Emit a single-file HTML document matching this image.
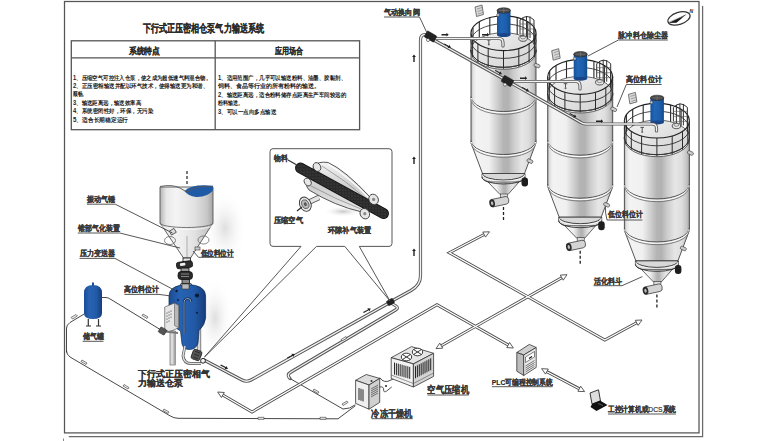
<!DOCTYPE html>
<html><head><meta charset="utf-8"><title>下行式正压密相仓泵气力输送系统</title>
<style>
html,body{margin:0;padding:0;background:#fff;}
body{width:768px;height:441px;overflow:hidden;position:relative;font-family:"Liberation Sans",sans-serif;}
svg{position:absolute;left:0;top:0;}
.t{font-family:"Liberation Sans",sans-serif;fill:#222;}
.s{font-family:"Liberation Sans",sans-serif;fill:#222;}
html.cjk .tx{stroke-width:0.15px;}
html.cjk .tb{stroke-width:0;}
</style></head><body>
<svg width="768" height="441" viewBox="0 0 768 441">
<defs>
 <linearGradient id="metal" x1="0" x2="1" y1="0" y2="0">
  <stop offset="0" stop-color="#b0b0b0"/>
  <stop offset="0.03" stop-color="#e0e0e0"/>
  <stop offset="0.08" stop-color="#f3f3f3"/>
  <stop offset="0.28" stop-color="#f0f0f0"/>
  <stop offset="0.40" stop-color="#d0d0d0"/>
  <stop offset="0.50" stop-color="#b4b4b4"/>
  <stop offset="0.57" stop-color="#b2b2b2"/>
  <stop offset="0.66" stop-color="#cdcdcd"/>
  <stop offset="0.78" stop-color="#e6e6e6"/>
  <stop offset="0.88" stop-color="#dedede"/>
  <stop offset="0.96" stop-color="#c4c4c4"/>
  <stop offset="1" stop-color="#a0a0a0"/>
 </linearGradient>
 <linearGradient id="roof" x1="0" x2="1" y1="0" y2="1">
  <stop offset="0" stop-color="#f4f4f4"/>
  <stop offset="1" stop-color="#d0d0d0"/>
 </linearGradient>
 <linearGradient id="blue" x1="0" x2="1" y1="0" y2="0">
  <stop offset="0" stop-color="#17519a"/>
  <stop offset="0.3" stop-color="#2166b6"/>
  <stop offset="0.7" stop-color="#1d5eac"/>
  <stop offset="1" stop-color="#154888"/>
 </linearGradient>
 <linearGradient id="hop" x1="0" x2="1" y1="0" y2="0">
  <stop offset="0" stop-color="#b4b4b4"/>
  <stop offset="0.12" stop-color="#e8e8e8"/>
  <stop offset="0.3" stop-color="#f4f4f4"/>
  <stop offset="0.65" stop-color="#e2e2e2"/>
  <stop offset="0.88" stop-color="#c8c8c8"/>
  <stop offset="1" stop-color="#a6a6a6"/>
 </linearGradient>
 <g id="silo">
<path d="M471.0 50 L471.0 143 L482.5 173.5 L524.5 173.5 L536.0 143 L536.0 50 Z" fill="url(#metal)" stroke="#444" stroke-width="0.9"/>
<path d="M471.0 50 A32.5 17.3 0 0 0 536.0 50 L536.0 52 A32.5 17.3 0 0 1 471.0 52 Z" fill="#ececec" stroke="#444" stroke-width="0.8"/>
<path d="M471.0 96.5 A32.5 15 0 0 0 536.0 96.5" fill="none" stroke="#444" stroke-width="0.9"/>
<path d="M471.3 97.9 A32.2 15 0 0 0 535.7 97.9" fill="none" stroke="#fbfbfb" stroke-width="1.1"/>
<path d="M471.5 99.3 A32.0 15 0 0 0 535.5 99.3" fill="none" stroke="#666" stroke-width="0.8"/>
<path d="M471.0 140.5 A32.5 14 0 0 0 536.0 140.5" fill="none" stroke="#444" stroke-width="0.9"/>
<path d="M471.3 141.9 A32.2 14 0 0 0 535.7 141.9" fill="none" stroke="#fbfbfb" stroke-width="1.1"/>
<path d="M471.5 143.3 A32.0 14 0 0 0 535.5 143.3" fill="none" stroke="#666" stroke-width="0.8"/>
<path d="M482 173.5 L482 177 A21.5 7 0 0 0 525 177 L525 173.5 Z" fill="#d8d8d8" stroke="#333" stroke-width="0.8"/>
<path d="M482.5 173.5 A21 6.5 0 0 0 524.5 173.5" fill="none" stroke="#333" stroke-width="0.9"/>
<path d="M482.5 174.8 A21 6.5 0 0 0 524.5 174.8" fill="none" stroke="#fafafa" stroke-width="0.9"/>
<path d="M488 182 L500 194.5 L508 194.5 L519 182 Z" fill="url(#metal)" stroke="#444" stroke-width="0.8"/>
<path d="M482 177 A21.5 7 0 0 0 525 177" fill="none" stroke="#333" stroke-width="0.9"/>
<rect x="521.5" y="177.5" width="6.5" height="9" rx="3" fill="#1e1e1e"/>
<rect x="527" y="159.5" width="6" height="3.2" rx="1.2" fill="#ccc" stroke="#333" stroke-width="0.6" transform="rotate(25 530 161)"/>
<rect x="534" y="64" width="6" height="3.2" rx="1.2" fill="#ccc" stroke="#333" stroke-width="0.6" transform="rotate(25 537 65.6)"/>
<rect x="500.5" y="194" width="7" height="4.5" fill="#ddd" stroke="#333" stroke-width="0.6"/>
<g transform="rotate(-12 499 202)"><path d="M492 198 L506 198 Q509 198 509 201.8 Q509 205.6 506 205.6 L492 205.6 Z" fill="#d4d4d4" stroke="#333" stroke-width="0.7"/><ellipse cx="492" cy="201.8" rx="2.8" ry="4" fill="#2a2a2a"/><ellipse cx="492" cy="201.8" rx="1.2" ry="2" fill="#bbb"/></g>
<path d="M503.5 207 v3 M503.5 212 v3 M503.5 217 v3" stroke="#222" stroke-width="1.3"/>
<ellipse cx="503.5" cy="50" rx="32.5" ry="17.3" fill="url(#roof)" stroke="#444" stroke-width="0.8"/>
<path d="M473.0 27.4 V44.1 M479.3 21.7 V38.4 M489.8 17.6 V34.3 M517.2 17.6 V34.3 M527.7 21.7 V38.4 M534.0 27.4 V44.1" stroke="#2a2a2a" stroke-width="1.1" fill="none"/>
<path d="M471.0 33.3 A32.5 17.3 0 0 1 536.0 33.3" stroke="#222" stroke-width="1.2" fill="none"/>
<path d="M471.0 41.1 A32.5 17.3 0 0 1 536.0 41.1" stroke="#333" stroke-width="0.9" fill="none"/>
<path d="M520 34 V20 Q527 13 534 20 V42 M523 17.5 V36 M526.5 16 V37 M530 16.5 V38" fill="none" stroke="#333" stroke-width="1"/>
<path d="M520 24 H534 M520 29 H534 M520 34 H534" fill="none" stroke="#555" stroke-width="0.6"/>
<ellipse cx="523" cy="38.5" rx="4.2" ry="2.8" fill="#e6e6e6" stroke="#333" stroke-width="0.8"/>
<ellipse cx="523" cy="37.5" rx="2.5" ry="1.4" fill="none" stroke="#555" stroke-width="0.6"/>
<path d="M488.8 40 v4 M487 40 h3.6" stroke="#444" stroke-width="0.9"/>
<circle cx="488.8" cy="44.5" r="1" fill="#666"/>
<rect x="497" y="10.5" width="13.5" height="24.5" fill="url(#blue)"/>
<ellipse cx="503.75" cy="35" rx="6.75" ry="2" fill="#1a4588"/>
<ellipse cx="503.75" cy="10.5" rx="6.75" ry="2.7" fill="#4a4a4a" stroke="#222" stroke-width="0.6"/>
<path d="M499 10.5 h9.5 M503.75 8 v5" stroke="#888" stroke-width="0.5"/>
<circle cx="498" cy="15" r="1.4" fill="#ccc" stroke="#222" stroke-width="0.4"/>
<path d="M536.0 33.3 V51.5 M534.4 38.6 V56.8 M529.1 44.0 V62.2 M518.8 48.6 V66.8 M503.5 50.6 V68.8 M488.2 48.6 V66.8 M477.9 44.0 V62.2 M472.6 38.6 V56.8 M471.0 33.3 V51.5" stroke="#2a2a2a" stroke-width="1.0" fill="none"/>
<path d="M471.0 33.3 A32.5 17.3 0 0 0 536.0 33.3" stroke="#222" stroke-width="1.15" fill="none"/>
<path d="M471.0 41.1 A32.5 17.3 0 0 0 536.0 41.1" stroke="#333" stroke-width="0.95" fill="none"/>
<path d="M471.0 50 A32.5 17.3 0 0 0 536.0 50" stroke="#333" stroke-width="1" fill="none"/>
<path d="M475 7 L482 5 L483.5 14.5 L476.5 16.5 Z" fill="#d8d8d8" stroke="#444" stroke-width="0.7"/>
<path d="M477 9 l5 -1.5 M477.5 11.5 l5 -1.5 M478 14 l5 -1.5" stroke="#666" stroke-width="0.5"/>
</g>
</defs>

<!-- frame -->
<rect x="64.5" y="1.5" width="634.5" height="431.4" fill="none" stroke="#555" stroke-width="1.25"/>
<path d="M702.6 6 V436.6 H68.8" fill="none" stroke="#6a6a6a" stroke-width="1.25"/>
<path d="M63.5 438.5 V441" stroke="#888" stroke-width="1"/>

<!-- title -->
<text x="142.5" y="31.5" class="t tx" font-size="10.8" font-weight="bold" stroke="#2a2a2a" stroke-width="1.1" textLength="121.5" lengthAdjust="spacingAndGlyphs">下行式正压密相仓泵气力输送系统</text>
<!-- table -->
<rect x="71.3" y="40.8" width="288.3" height="88.9" fill="none" stroke="#555" stroke-width="1.3"/>
<line x1="71.3" y1="57.8" x2="359.6" y2="57.8" stroke="#555" stroke-width="1.3"/>
<line x1="215.2" y1="40.8" x2="215.2" y2="129.7" stroke="#555" stroke-width="1.3"/>
<text x="128.8" y="54.3" class="t tx" font-size="8.6" font-weight="bold" stroke="#2a2a2a" stroke-width="1.2" textLength="31.2" lengthAdjust="spacingAndGlyphs">系统特点</text>
<text x="274.6" y="54.3" class="t tx" font-size="8.6" font-weight="bold" stroke="#2a2a2a" stroke-width="1.2" textLength="28" lengthAdjust="spacingAndGlyphs">应用场合</text>
<g class="s tx tb" font-size="6.4" font-weight="bold" stroke="#333" stroke-width="0.8">
 <text x="73" y="79.5" textLength="138" lengthAdjust="spacingAndGlyphs">1、压缩空气可控注入仓泵，使之成为超低速气料混合物。</text>
 <text x="73" y="87.5" textLength="135" lengthAdjust="spacingAndGlyphs">2、正压密相输送并配以环气技术，使得输送更为和谐、</text>
 <text x="73" y="96" textLength="14" lengthAdjust="spacingAndGlyphs">顺畅。</text>
 <text x="73" y="104.5" textLength="68" lengthAdjust="spacingAndGlyphs">3、输送距离远，输送效率高</text>
 <text x="73" y="113" textLength="80" lengthAdjust="spacingAndGlyphs">4、系统密闭性好，环保，无污染</text>
 <text x="73" y="121.5" textLength="55" lengthAdjust="spacingAndGlyphs">5、适合长期稳定运行</text>
 <text x="218" y="79.5" textLength="128" lengthAdjust="spacingAndGlyphs">1、适用范围广，几乎可以输送粉料、油墨、胶黏剂、</text>
 <text x="218" y="88" textLength="102" lengthAdjust="spacingAndGlyphs">饲料、食品等行业的所有粉料的输送。</text>
 <text x="218" y="96.5" textLength="128" lengthAdjust="spacingAndGlyphs">2、输送距离远，适合粉料储存点距离生产车间较远的</text>
 <text x="218" y="105" textLength="25" lengthAdjust="spacingAndGlyphs">粉料输送。</text>
 <text x="218" y="113.5" textLength="58" lengthAdjust="spacingAndGlyphs">3、可以一点向多点输送</text>
</g>

<!-- silos -->
<use href="#silo"/>
<use href="#silo" transform="translate(76.7 43.7)"/>
<use href="#silo" transform="translate(153.4 87.4)"/>


<!-- ===== pipes around silos ===== -->
<g fill="none" stroke-linecap="round" stroke-linejoin="round">
 <g stroke="#555" stroke-width="3.2">
  <path d="M390 302 L411 290.5 Q420.5 285 420.5 276 L420.5 40 Q420.5 34.5 425 34.5 L430 36"/>
  <path d="M433 38.5 L499 38.5 Q503 38.5 503 43 L503 46"/>
  <path d="M432 39 L507.6 81 L581 122.5 Q583 124 586 124 L652 124 Q656.5 124 656.5 128 L656.5 131"/>
  <path d="M509 81.5 L576 81.5 Q580 81.5 580 86 L580 89"/>
  <path d="M204 360 L242 380 Q246.5 382.5 251 380 L389 303"/>
  <path d="M391 303 L396 306 Q399 308 395.5 310 L291 372 Q286 375 290 378.5"/>
 </g>
 <g stroke="#f2f2f2" stroke-width="1.4">
  <path d="M390 302 L411 290.5 Q420.5 285 420.5 276 L420.5 40 Q420.5 34.5 425 34.5 L430 36"/>
  <path d="M433 38.5 L499 38.5 Q503 38.5 503 43 L503 46"/>
  <path d="M432 39 L507.6 81 L581 122.5 Q583 124 586 124 L652 124 Q656.5 124 656.5 128 L656.5 131"/>
  <path d="M509 81.5 L576 81.5 Q580 81.5 580 86 L580 89"/>
  <path d="M204 360 L242 380 Q246.5 382.5 251 380 L389 303"/>
  <path d="M391 303 L396 306 Q399 308 395.5 310 L291 372 Q286 375 290 378.5"/>
 </g>
 <!-- thin air lines -->
 <g stroke="#333" stroke-width="0.9">
  <path d="M290 378.5 L343 409 Q350 409 355 405"/>
  <path d="M355 406 L338 418.8 L178 418.3 Q174 418.3 170 415.8 L70 357 Q66.5 354.5 66.5 351"/>
  <path d="M66.5 352 V328 Q66.5 325 70 322.5 L85 313.5"/>
  <path d="M102 297.5 L106 297.5 Q108 297.5 111 299.5 L161 330"/>
  <path d="M380 378 Q384 384 391 380 L395 378"/>
 </g>
</g>


<!-- small flow arrows -->
<g fill="#222">
 <path d="M441.5 34 h5 l0 -1.2 l2.2 1.9 l-2.2 1.9 l0 -1.2 h-5 Z"/>
 <path d="M482 34 h5 l0 -1.2 l2.2 1.9 l-2.2 1.9 l0 -1.2 h-5 Z"/>
 <path d="M520 77.5 h5 l0 -1.2 l2.2 1.9 l-2.2 1.9 l0 -1.2 h-5 Z"/>
 <path d="M596 120.5 h5 l0 -1.2 l2.2 1.9 l-2.2 1.9 l0 -1.2 h-5 Z"/>
 <path d="M444.5 43.5 l4.5 2.5 l0.4 -1.3 l1.6 3 l-3.3 0.3 l0.6 -1.2 l-4.5 -2.5 Z"/>
 <path d="M495.5 70 l4.5 2.5 l0.4 -1.3 l1.6 3 l-3.3 0.3 l0.6 -1.2 l-4.5 -2.5 Z"/>
 <path d="M522.5 87 l4.5 2.5 l0.4 -1.3 l1.6 3 l-3.3 0.3 l0.6 -1.2 l-4.5 -2.5 Z"/>
 <path d="M570 113 l4.5 2.5 l0.4 -1.3 l1.6 3 l-3.3 0.3 l0.6 -1.2 l-4.5 -2.5 Z"/>
 <path d="M413.3 62 v-5 h-1.2 l1.9 -2.4 l1.9 2.4 h-1.2 v5 Z"/>
 <path d="M413.3 164 v-5 h-1.2 l1.9 -2.4 l1.9 2.4 h-1.2 v5 Z"/>
 <path d="M413.3 256 v-5 h-1.2 l1.9 -2.4 l1.9 2.4 h-1.2 v5 Z"/>
 <path d="M221 364.5 l5 2.6 l0.5 -1.2 l1.5 3.1 l-3.4 0.2 l0.6 -1.2 l-5 -2.6 Z"/>
 <path d="M287 357.5 l5 -2.6 l-0.6 -1.2 l3.4 0.2 l-1.5 3.1 l-0.5 -1.2 l-5 2.6 Z"/>
 <path d="M363 312 l5 -2.6 l-0.6 -1.2 l3.4 0.2 l-1.5 3.1 l-0.5 -1.2 l-5 2.6 Z"/>
</g>


<!-- hollow pipe markers -->
<g fill="#eee" stroke="#333" stroke-width="0.6">
 <path d="M71 317.5 l5 -3 l1.5 1.5 l-5 3 Z"/>
 <path d="M143 314 l5 3 l-1 1.5 l-5 -3 Z"/>
 <path d="M82 360 l5 3 l-1 1.5 l-5 -3 Z"/>
 <path d="M124 384.5 l5 3 l-1 1.5 l-5 -3 Z"/>
 <path d="M164 409 l5 3 l-1 1.5 l-5 -3 Z"/>
 <path d="M258 417.3 h6 v2 h-6 Z"/>
 <path d="M320 417.3 h6 v2 h-6 Z"/>
 <path d="M314 389 l5 3 l-1 1.5 l-5 -3 Z"/>
 <path d="M341 339.5 l5 -3 l1 1.5 l-5 3 Z"/>
 <path d="M342 404 l5 -3 l1 1.5 l-5 3 Z"/>
</g>

<!-- valves on silo pipes -->
<g fill="#222" stroke="#111" stroke-width="0.5">
 <rect x="425" y="33" width="11" height="7" rx="1" transform="rotate(30 430.5 36.5)"/>
 <rect x="502" y="77.5" width="11" height="7" rx="1" transform="rotate(30 507.5 81)"/>
 <rect x="387" y="299.5" width="7" height="5" rx="1" transform="rotate(-30 390.5 302)"/>
 
</g>
<circle cx="428" cy="40" r="1.6" fill="#eee" stroke="#222" stroke-width="0.5"/>
<circle cx="505" cy="84.5" r="1.6" fill="#eee" stroke="#222" stroke-width="0.5"/>

<!-- ===== hollow arrows ===== -->
<g fill="none" stroke-linejoin="miter" stroke-linecap="butt">
 <g stroke="#4a4a4a" stroke-width="3">
  <path d="M486 233.5 L449.4 252.7 L604.8 340 L638 322"/>
  <path d="M563.5 276.7 L439.5 346.7"/>
  <path d="M221 394 L252 412 L437 304.7 L509.5 345.8"/>
  <path d="M545 370.7 L581 389.7"/>
 </g>
 <g stroke="#fff" stroke-width="1.3">
  <path d="M486 233.5 L449.4 252.7 L604.8 340 L638 322"/>
  <path d="M563.5 276.7 L439.5 346.7"/>
  <path d="M221 394 L252 412 L437 304.7 L509.5 345.8"/>
  <path d="M545 370.7 L581 389.7"/>
 </g>
</g>
<g fill="#fff" stroke="#4a4a4a" stroke-width="0.9" stroke-linejoin="miter">
 <path d="M489.5 231.8 L485.5 237.1 L482.8 232.0 Z"/>
 <path d="M642.0 320.0 L638.1 325.4 L635.3 320.3 Z"/>
 <path d="M567.0 274.7 L563.2 280.2 L560.3 275.1 Z"/>
 <path d="M436.0 348.6 L439.8 343.1 L442.7 348.2 Z"/>
 <path d="M217.7 392.0 L224.3 392.5 L221.4 397.5 Z"/>
 <path d="M513.4 348.0 L506.8 347.6 L509.6 342.5 Z"/>
 <path d="M541.6 368.7 L548.3 369.0 L545.5 374.1 Z"/>
 <path d="M584.6 391.6 L577.9 391.3 L580.7 386.2 Z"/>
</g>


<!-- ===== hopper ===== -->
<defs>
 <radialGradient id="shadow" cx="0.5" cy="0.5" r="0.5">
  <stop offset="0" stop-color="#c4c4c4" stop-opacity="0.55"/>
  <stop offset="1" stop-color="#fff" stop-opacity="0"/>
 </radialGradient>
 <linearGradient id="bluev" x1="0" x2="1" y1="0" y2="0">
  <stop offset="0" stop-color="#1b4b95"/>
  <stop offset="0.3" stop-color="#2763b3"/>
  <stop offset="0.7" stop-color="#2259a6"/>
  <stop offset="1" stop-color="#163c7a"/>
 </linearGradient>
</defs>
<ellipse cx="225" cy="228" rx="22" ry="38" fill="url(#shadow)"/>
<ellipse cx="215" cy="318" rx="18" ry="40" fill="url(#shadow)"/>
<path d="M160 187 L160 223 L183.5 258 L190.5 258 L213 223 L213 187 Z" fill="url(#hop)" stroke="#555" stroke-width="0.9"/>
<path d="M160 223 A26.5 4.5 0 0 0 213 223" fill="none" stroke="#666" stroke-width="0.9"/>
<path d="M160.5 225 A26 4.5 0 0 0 212.5 225" fill="none" stroke="#fafafa" stroke-width="0.8"/>
<path d="M184.5 191 Q192 183.5 213 185.8 L213 190.5 Q207 197.5 196 197 Q188 196 184.5 191 Z" fill="#1f5aa6"/>
<path d="M160 186.5 Q172 184 180 188 Q186 192 188 192 Q195 185 213 186.5" fill="none" stroke="#555" stroke-width="0.9"/>
<path d="M187 171 v3 M187 176 v3 M187 181 v3" stroke="#333" stroke-width="1.3"/>
<ellipse cx="170" cy="240.5" rx="5.5" ry="4" fill="none" stroke="#666" stroke-width="0.8"/>
<ellipse cx="203.5" cy="240" rx="5.5" ry="4" fill="none" stroke="#666" stroke-width="0.8"/>
<rect x="170" y="229.5" width="5.5" height="4.5" fill="#ddd" stroke="#333" stroke-width="0.7" transform="rotate(-30 172.7 231.7)"/>
<rect x="195" y="247" width="5" height="3" fill="#ccc" stroke="#333" stroke-width="0.6"/>
<line x1="187" y1="236" x2="187" y2="258" stroke="#888" stroke-width="0.6"/>
<!-- valves between hopper and pump -->
<g stroke="#111" stroke-width="0.8">
 <rect x="183" y="258" width="7.5" height="4" fill="#e6e6e6"/>
 <rect x="176.5" y="261.5" width="16" height="6.5" rx="2.2" fill="#2e2e2e" transform="rotate(-8 184.5 264.7)"/>
 <rect x="180" y="262.8" width="5.5" height="2.6" rx="1" fill="#f2f2f2" stroke="none" transform="rotate(-8 184.5 264.7)"/>
 <rect x="181" y="268" width="8" height="4" fill="#9a9a9a"/>
 <rect x="178" y="271.5" width="14.5" height="8" rx="3.2" fill="#2a2a2a"/>
 <path d="M181 274 h8 M181 276.5 h8" stroke="#aaa" stroke-width="0.7"/>
 <rect x="182" y="279.5" width="7.5" height="4" fill="#8a8a8a"/>
 <rect x="180.5" y="283.5" width="11" height="3.5" rx="1" fill="#eaeaea"/>
</g>
<!-- ===== pump vessel ===== -->
<path d="M199 326 V356" stroke="#777" stroke-width="4.4"/>
<path d="M199 326 V356" stroke="#d8d8d8" stroke-width="2.6"/>
<path d="M169 296 Q169 285 187.3 284.5 Q205.6 285 205.6 296 L205.6 318 Q205 325 199 330.5 L198 343 Q196 349.5 189.5 349.5 Q183.5 349.5 182 344 L180.5 331 Q170 325 169 318 Z" fill="url(#bluev)" stroke="#0d2650" stroke-width="0.7"/>
<path d="M184 334 V303 Q184 298.5 188 298.5 Q191 298.5 191 302" fill="none" stroke="#0e2244" stroke-width="2.2"/>
<path d="M184 334 V303 Q184 298.5 188 298.5 Q191 298.5 191 302" fill="none" stroke="#9fb2cf" stroke-width="0.9"/>
<circle cx="197" cy="295.5" r="2.1" fill="#0a1a38"/>
<circle cx="176.5" cy="291" r="1.2" fill="#0a1a38"/>
<circle cx="197" cy="312.7" r="1" fill="#0a1a38"/>
<circle cx="178" cy="300" r="0.9" fill="#0a1a38"/>
<rect x="182" y="284" width="7" height="5" fill="#bbb" stroke="#333" stroke-width="0.6"/>
<!-- control box -->
<path d="M164.7 307 L174.5 303 L178.7 305.5 L178.7 327.8 L169 332 L164.7 329.5 Z" fill="#e6e6e6" stroke="#444" stroke-width="0.6"/>
<path d="M174.5 303 L178.7 305.5 L178.7 327.8 L174.5 325.5 Z" fill="#b8b8b8" stroke="#444" stroke-width="0.5"/>
<g fill="#333"><circle cx="167" cy="313" r="0.6"/><circle cx="169" cy="312" r="0.6"/><circle cx="171" cy="311" r="0.6"/><circle cx="167" cy="316" r="0.6"/><circle cx="169" cy="315" r="0.6"/><circle cx="171" cy="314" r="0.6"/><circle cx="167" cy="319" r="0.6"/><circle cx="169" cy="318" r="0.6"/><circle cx="171" cy="317" r="0.6"/><circle cx="167" cy="322" r="0.6"/><circle cx="169" cy="321" r="0.6"/></g>
<!-- legs -->
<rect x="170" y="331" width="5.5" height="34" fill="#dcdcdc" stroke="#555" stroke-width="0.6"/>
<rect x="173.5" y="332" width="2" height="33" fill="#a8a8a8"/>
<path d="M161 331 L178 333" stroke="#777" stroke-width="2.2"/>
<rect x="159" y="328" width="7" height="6" rx="1" fill="#555" stroke="#222" stroke-width="0.5" transform="rotate(30 162.5 331)"/>
<path d="M185 346 L183 356 Q184 363.5 191 363.5 L201 363.5" fill="none" stroke="#555" stroke-width="2.8"/>
<path d="M185 346 L183 356 Q184 363.5 191 363.5 L201 363.5" fill="none" stroke="#e0e0e0" stroke-width="1.4"/>
<rect x="192" y="350" width="9" height="10" rx="2" fill="#555" stroke="#111" stroke-width="0.7" transform="rotate(20 196.5 355)"/>
<path d="M194 352 h5 M194 355 h5 M194 358 h5" stroke="#222" stroke-width="0.8" transform="rotate(20 196.5 355)"/>
<circle cx="203" cy="360.8" r="2.4" fill="#f4f4f4" stroke="#111" stroke-width="0.9"/>
<!-- ===== air tank ===== -->
<path d="M84 293 Q84 285 93 285 Q102 285 102 293 L102 313 Q102 319 93 319 Q84 319 84 313 Z" fill="url(#bluev)"/>
<rect x="92" y="282.5" width="2" height="3" fill="#1b4b95"/>
<path d="M88.3 319 V326 M98.5 319 V326 M86 326 h5 M96 326 h5" stroke="#333" stroke-width="1.2"/>


<!-- ===== callout ===== -->
<path d="M273 148.7 H389 Q392 148.7 392 151.7 V243.4 Q392 246.4 389 246.4 H359.3 L390 301 L344.8 246.4 H316.5 L204.5 357 L301 246.4 H273 Q270 246.4 270 243.4 V151.7 Q270 148.7 273 148.7 Z" fill="#fff" stroke="#444" stroke-width="0.9" stroke-linejoin="round"/>
<defs>
 <linearGradient id="cone" x1="0" x2="0" y1="0" y2="1">
  <stop offset="0" stop-color="#f4f4f4"/>
  <stop offset="0.5" stop-color="#cfcfcf"/>
  <stop offset="1" stop-color="#e8e8e8"/>
 </linearGradient>
 <pattern id="grit" width="3" height="3" patternUnits="userSpaceOnUse">
  <rect width="3" height="3" fill="#2b2b2b"/>
  <circle cx="1" cy="1" r="0.5" fill="#555"/>
 </pattern>
 <radialGradient id="sh2" cx="0.5" cy="0.5" r="0.5">
  <stop offset="0" stop-color="#c8c8c8"/>
  <stop offset="1" stop-color="#fff" stop-opacity="0"/>
 </radialGradient>
</defs>
<ellipse cx="343" cy="211.5" rx="20" ry="5.5" fill="url(#sh2)"/>
<!-- inlet pipe -->
<path d="M305 204 L319 197.5" stroke="#555" stroke-width="5.5"/>
<path d="M305 204 L319 197.5" stroke="#e4e4e4" stroke-width="3.6"/>
<ellipse cx="305.3" cy="204.2" rx="5.6" ry="7.4" fill="#e6e6e6" stroke="#333" stroke-width="0.9" transform="rotate(-25 305.3 204.2)"/>
<ellipse cx="305.3" cy="204.2" rx="3.4" ry="4.6" fill="#bbb" stroke="#444" stroke-width="0.7" transform="rotate(-25 305.3 204.2)"/>
<ellipse cx="305.3" cy="204.2" rx="1.4" ry="2" fill="#555" transform="rotate(-25 305.3 204.2)"/>
<!-- silver spindle -->
<path d="M314 166 Q318 161 328 162.5 Q345 170 370 197 L362 212 Q335 206 309 190 Q304 184 308 180 Z" fill="url(#cone)" stroke="#444" stroke-width="0.9"/>
<path d="M322 166 Q345 180 368 200 M311 186 Q335 199 361 209" fill="none" stroke="#777" stroke-width="0.6"/>
<path d="M328 164 Q350 178 369 198" fill="none" stroke="#fff" stroke-width="1.2"/>
<!-- dark pipe -->
<path d="M300.5 168 L383.5 213.5" stroke="#111" stroke-width="11" stroke-linecap="round"/>
<path d="M300.5 168 L383.5 213.5" stroke="url(#grit)" stroke-width="9.4" stroke-linecap="round"/>
<!-- flanges -->
<g fill="#e6e6e6" stroke="#333" stroke-width="0.8">
 <ellipse cx="317" cy="167" rx="3.6" ry="4.6" transform="rotate(-30 317 167)"/>
 <ellipse cx="307.7" cy="182" rx="3.2" ry="4.2" transform="rotate(-30 307.7 182)"/>
 <ellipse cx="373.6" cy="199.4" rx="4.6" ry="5.4" transform="rotate(-30 373.6 199.4)"/>
 <ellipse cx="364.8" cy="213.7" rx="4.6" ry="5.4" transform="rotate(-30 364.8 213.7)"/>
</g>
<g fill="#888"><circle cx="373.6" cy="199.4" r="1.6"/><circle cx="364.8" cy="213.7" r="1.6"/></g>
<path d="M288 160 L296 164.5 M297 211 L302 207" stroke="#333" stroke-width="1.3"/>


<!-- ===== compressor ===== -->
<g stroke="#333" stroke-width="0.8" stroke-linejoin="round">
 <path d="M391.2 357.7 L411.5 346.6 L433.6 353.3 L413.4 363.9 Z" fill="#e6e6e6"/>
 <path d="M391.2 357.7 L413.4 363.9 L413.4 387 L391.2 378.4 Z" fill="#f2f2f2"/>
 <path d="M413.4 363.9 L433.6 353.3 L433.6 376.4 L413.4 387 Z" fill="#d4d4d4"/>
</g>
<path d="M391.2 375 L413.4 383.5 L433.6 373" fill="none" stroke="#555" stroke-width="0.6"/>
<g stroke="#1a1a1a" stroke-width="0.95">
 <path d="M394.5 362.6 v12 M396.4 363.2 v12 M398.3 363.7 v12 M400.2 364.2 v12 M402.1 364.7 v12 M404.0 365.3 v12 M405.9 365.8 v12 M407.8 366.3 v12 M409.7 366.9 v12"/>
 <path d="M415.5 366.3 v12 M417.4 365.3 v12 M419.3 364.3 v12 M421.2 363.3 v12 M423.1 362.3 v12 M425.0 361.3 v12 M426.9 360.3 v12 M428.8 359.3 v12 M430.7 358.3 v12"/>
</g>
<g fill="#fff" stroke="#222" stroke-width="0.9">
 <ellipse cx="406.5" cy="357" rx="5.2" ry="3.8"/>
 <ellipse cx="417.5" cy="352" rx="5.2" ry="3.8"/>
</g>
<path d="M402.5 354.5 l8 5 M410.5 354.5 l-8 5 M413.5 349.5 l8 5 M421.5 349.5 l-8 5" stroke="#222" stroke-width="0.9"/>
<!-- ===== dryer ===== -->
<g stroke="#333" stroke-width="0.8" stroke-linejoin="round">
 <path d="M355.6 380.3 L366.2 374.5 L379.7 378.4 L369 385 Z" fill="#dcdcdc"/>
 <path d="M355.6 380.3 L369 385 L369 409.2 L355.6 403.4 Z" fill="#efefef"/>
 <path d="M369 385 L379.7 378.4 L379.7 402.4 L369 409.2 Z" fill="#d0d0d0"/>
</g>
<path d="M359 388 v12 M361 388.7 v12 M363 389.4 v12" stroke="#222" stroke-width="1"/>
<path d="M371 389 l7 -4 M371 391 l7 -4 M371 393 l7 -4 M371 395 l7 -4 M371 397 l7 -4" stroke="#444" stroke-width="0.7"/>
<circle cx="371.5" cy="381" r="1" fill="#333"/>
<path d="M379.7 387 q4 -1 4 3 q0 3 3 1 l5 -4" fill="none" stroke="#222" stroke-width="0.8"/>
<circle cx="386" cy="386" r="1" fill="#222"/>
<!-- ===== PLC ===== -->
<g stroke="#333" stroke-width="0.8" stroke-linejoin="round">
 <path d="M516.8 352.5 L529.3 344.4 L536.2 347.5 L523.7 355 Z" fill="#d0d0d0"/>
 <path d="M516.8 352.5 L523.7 355 L523.7 375.5 L516.8 371.2 Z" fill="#bdbdbd"/>
 <path d="M523.7 355 L536.2 347.5 L536.2 367.4 L523.7 375.5 Z" fill="#eaeaea"/>
</g>
<path d="M525.5 357 L534.5 351.5 L534.5 357 L525.5 362.5 Z" fill="#fff" stroke="#333" stroke-width="0.6"/>
<path d="M529 358.5 l3 -2" stroke="#111" stroke-width="1.2"/>
<path d="M525.5 366 l9 -5.5 M525.5 368 l9 -5.5 M525.5 370 l9 -5.5 M525.5 372 l9 -5.5" stroke="#444" stroke-width="0.7"/>
<!-- ===== laptop ===== -->
<path d="M590 393 L598.5 389.8 L600.5 401 L592 404 Z" fill="#ddd" stroke="#222" stroke-width="0.9"/>
<path d="M592 404 L600 400.5 L607.5 405 L596.5 411 L590.5 407 Z" fill="#111"/>
<path d="M598 403.5 l5 2" stroke="#888" stroke-width="0.6"/>

<!-- ===== labels ===== -->
<g class="t tx" font-size="8" font-weight="bold" fill="#3a3a3a" stroke="#3a3a3a" stroke-width="1.05">
 <text x="384" y="15.3" textLength="35.7" lengthAdjust="spacingAndGlyphs">气动换向阀</text>
 <text x="618.4" y="37.7" textLength="49.4" lengthAdjust="spacingAndGlyphs">脉冲料仓除尘器</text>
 <text x="626.3" y="82.4" textLength="35.4" lengthAdjust="spacingAndGlyphs">高位料位计</text>
 <text x="608.3" y="217.4" textLength="34.1" lengthAdjust="spacingAndGlyphs">低位料位计</text>
 <text x="593.6" y="284" textLength="28.4" lengthAdjust="spacingAndGlyphs">活化料斗</text>
 <text x="86.9" y="202" textLength="28.3" lengthAdjust="spacingAndGlyphs">振动气锤</text>
 <text x="77.8" y="231" textLength="42" lengthAdjust="spacingAndGlyphs">锥部气化装置</text>
 <text x="79.5" y="256" textLength="35.4" lengthAdjust="spacingAndGlyphs">压力变送器</text>
 <text x="200.5" y="255.5" textLength="33.3" lengthAdjust="spacingAndGlyphs">低位料位计</text>
 <text x="124.4" y="292" textLength="34.7" lengthAdjust="spacingAndGlyphs">高位料位计</text>
 <text x="82.7" y="339" textLength="20.8" lengthAdjust="spacingAndGlyphs">储气罐</text>
 <text x="274.2" y="161.3" textLength="13.7" lengthAdjust="spacingAndGlyphs">物料</text>
 <text x="273.9" y="223" textLength="29" lengthAdjust="spacingAndGlyphs">压缩空气</text>
 <text x="328" y="233.3" textLength="43" lengthAdjust="spacingAndGlyphs">环隙补气装置</text>
 <text x="491.8" y="384.8" textLength="60.9" lengthAdjust="spacingAndGlyphs"><tspan stroke-width="0.2">PLC</tspan>可编程控制系统</text>
 <text x="608" y="412" textLength="68" lengthAdjust="spacingAndGlyphs">工控计算机或<tspan stroke-width="0.2" font-weight="normal">DCS</tspan>系统</text>
</g>
<g class="t tx" font-size="9.8" font-weight="bold" fill="#3a3a3a" stroke="#3a3a3a" stroke-width="1.25">
 <text x="427.4" y="392.5" textLength="41.4" lengthAdjust="spacingAndGlyphs">空气压缩机</text>
 <text x="371.3" y="417" textLength="41.4" lengthAdjust="spacingAndGlyphs">冷冻干燥机</text>
</g>
<g class="s tx" font-size="9" font-weight="bold" fill="#333" stroke="#333" stroke-width="1.0">
 <text x="138" y="377" textLength="72" lengthAdjust="spacingAndGlyphs">下行式正压密相气</text>
 <text x="138" y="386.3" textLength="45" lengthAdjust="spacingAndGlyphs">力输送仓泵</text>
</g>
<!-- underlines & leaders -->
<g fill="none" stroke="#444" stroke-width="0.9">
 <path d="M384 17 H419.5 L427 33"/>
 <path d="M667.8 40 H618.4 L588 56"/>
 <path d="M661.7 84.5 H626.3 L617 107"/>
 <path d="M642.4 220 H607 Q605 213 605.5 207"/>
 <path d="M593.6 285.7 H622 L642.4 276.6"/>
 <path d="M86.9 204.2 H115.2 L172.5 233"/>
 <path d="M77.8 233 H119.8 L180 248"/>
 <path d="M79.5 258.4 H115 L176 291"/>
 <path d="M234 257.3 H198.5 L193 251"/>
 <path d="M124.4 294.4 H159 L171 296"/>
 <path d="M82.7 341.3 H103.5"/>
 <path d="M427.4 395 H468.8"/>
 <path d="M371.3 418.7 H412.7"/>
 <path d="M491.8 386.7 H552.7"/>
 <path d="M608 414 H676"/>
</g>
<!-- compass -->
<ellipse cx="679" cy="18.4" rx="11.5" ry="6" fill="#fff" stroke="#333" stroke-width="1.2" transform="rotate(-18 679 18.4)"/>
<path d="M668.5 23 L686.8 14 L676.5 22.8 Z" fill="#1a1a1a"/>
<path d="M669 22 L684 16" stroke="#888" stroke-width="0.6"/>
<text x="689.5" y="13" class="t" font-size="5" font-weight="bold" font-style="italic">N</text>

</svg>
<script>
(function(){try{var c=document.createElement('canvas').getContext('2d');c.font='100px "Liberation Sans", sans-serif';
if(c.measureText('\u4e2d').width>85){document.documentElement.className+=' cjk';}}catch(e){}})();
</script>
</body></html>
